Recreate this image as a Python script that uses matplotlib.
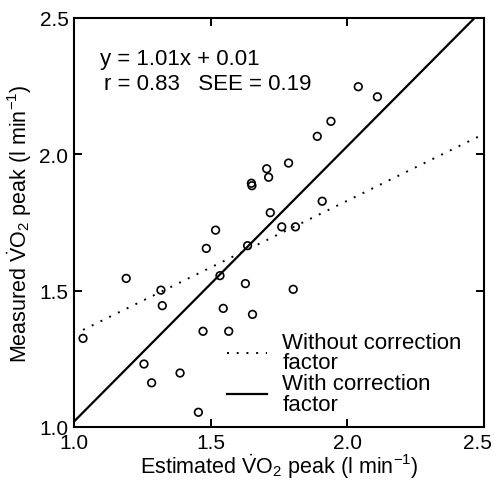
import numpy as np
import matplotlib
matplotlib.use("Agg")
import matplotlib.pyplot as plt
from matplotlib.lines import Line2D
from matplotlib.transforms import ScaledTranslation

plt.rcParams['font.family'] = ['Liberation Sans', 'DejaVu Sans']
plt.rcParams['mathtext.fontset'] = 'custom'
plt.rcParams['mathtext.rm'] = 'Liberation Sans'
plt.rcParams['mathtext.it'] = 'Liberation Sans'

# estimated vs measured VO2 peak (l/min)
estimated = [2.04, 2.11, 1.94, 1.89, 1.785, 1.705, 1.712, 1.649, 1.651, 1.718,
             1.908, 1.76, 1.81, 1.518, 1.484, 1.635, 1.191, 1.534, 1.318, 1.323,
             1.627, 1.802, 1.546, 1.653, 1.472, 1.566, 1.033, 1.256, 1.284, 1.388,
             1.455]
measured = [2.248, 2.211, 2.121, 2.066, 1.968, 1.947, 1.916, 1.894, 1.885, 1.786,
            1.828, 1.734, 1.734, 1.722, 1.655, 1.665, 1.545, 1.555, 1.502, 1.445,
            1.526, 1.505, 1.435, 1.413, 1.351, 1.351, 1.325, 1.231, 1.162, 1.198,
            1.054]

# regression lines
with_slope, with_icpt = 1.01, 0.01
without_slope, without_icpt = 0.49, 0.85

dotted = (0, (1, 4))

fig = plt.figure(figsize=(4.94, 4.81), dpi=100)
ax = fig.add_axes([0.1498, 0.1102, 0.830, 0.8503])

ax.scatter(estimated, measured, s=30, facecolors='none', edgecolors='black',
           linewidths=1.2, zorder=3)

xs = np.array([1.0, 2.5])
ax.plot(xs, with_slope * xs + with_icpt, color='black', lw=1.6)
xd = np.array([1.033, 2.5])
ax.plot(xd, without_slope * xd + without_icpt, color='black', lw=1.4,
        linestyle=dotted)

ax.set_xlim(1.0, 2.5)
ax.set_ylim(1.0, 2.5)
ticks = [1.0, 1.5, 2.0, 2.5]
ax.set_xticks(ticks)
ax.set_yticks(ticks)
ax.set_xticklabels(['1.0', '1.5', '2.0', '2.5'])
ax.set_yticklabels(['1.0', '1.5', '2.0', '2.5'])
ax.tick_params(direction='in', length=6, width=1.4, top=True, right=True,
               labelsize=15, pad=4)
for s in ax.spines.values():
    s.set_linewidth(1.5)

# last x label sits a bit left so it stays inside the picture
lbl = ax.get_xticklabels()[-1]
lbl.set_transform(lbl.get_transform() + ScaledTranslation(-5 / 72, 0, fig.dpi_scale_trans))

ax.set_xlabel(r'Estimated $\dot{\mathrm{V}}\mathrm{O}_2$ peak (l min$^{-1}$)',
              fontsize=15.5)
ax.set_ylabel(r'Measured $\dot{\mathrm{V}}\mathrm{O}_2$ peak (l min$^{-1}$)',
              fontsize=15.5)
ax.xaxis.set_label_coords(0.5, -0.062)
ax.yaxis.set_label_coords(-0.097, 0.5)

ax.text(0.064, 0.9, 'y = 1.01x + 0.01', transform=ax.transAxes,
        fontsize=16, va='center')
ax.text(0.074, 0.84, 'r = 0.83   SEE = 0.19', transform=ax.transAxes,
        fontsize=16, va='center')

handles = [Line2D([], [], color='black', lw=1.4, linestyle=dotted),
           Line2D([], [], color='black', lw=1.6)]
leg = ax.legend(handles, ['Without correction\nfactor', 'With correction\nfactor'],
                loc='upper left', bbox_to_anchor=(0.373, 0.233), frameon=False,
                fontsize=16, handlelength=1.8, handletextpad=0.7,
                labelspacing=0.0, borderpad=0.0, borderaxespad=0.0)
for t in leg.get_texts():
    t.set_linespacing(0.97)

fig.savefig('out.png', dpi=100)
